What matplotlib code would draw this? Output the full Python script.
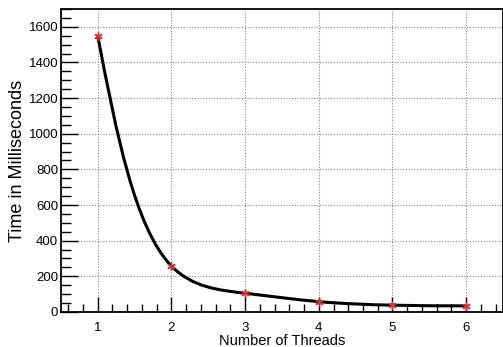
import numpy as np
import matplotlib
matplotlib.use("Agg")
from matplotlib import pyplot as plt
from matplotlib.path import Path
from matplotlib.patches import PathPatch
from matplotlib.ticker import MultipleLocator

plt.rcParams['font.family'] = ['Liberation Sans', 'DejaVu Sans']

threads = [1, 2, 3, 4, 5, 6]
time_ms = [1550, 258, 105, 58, 38, 34]
x_ticks = [1, 2, 3, 4, 5, 6]
y_ticks = [0, 200, 400, 600, 800, 1000, 1200, 1400, 1600]

xlim = (0.5, 6.5)
ylim = (0, 1700)


def natural_derivs(s, v):
    # first derivatives of a natural cubic spline v(s) at both ends of each piece
    n = len(s)
    h = np.diff(s)
    A = np.zeros((n, n))
    b = np.zeros(n)
    A[0, 0] = A[-1, -1] = 1
    for i in range(1, n - 1):
        A[i, i - 1] = h[i - 1]
        A[i, i] = 2 * (h[i - 1] + h[i])
        A[i, i + 1] = h[i]
        b[i] = 6 * ((v[i + 1] - v[i]) / h[i] - (v[i] - v[i - 1]) / h[i - 1])
    M = np.linalg.solve(A, b)
    d0 = (v[1:] - v[:-1]) / h - h * (2 * M[:-1] + M[1:]) / 6
    d1 = (v[1:] - v[:-1]) / h + h * (M[:-1] + 2 * M[1:]) / 6
    return d0, d1, h


def smooth_path(x, y, sx, sy, alpha=0.5):
    # parametric natural spline, centripetal knots on screen, drawn as beziers
    x = np.asarray(x, float)
    y = np.asarray(y, float)
    dt = np.hypot(np.diff(x) * sx, np.diff(y) * sy) ** alpha
    s = np.concatenate([[0], np.cumsum(dt)])
    dx0, dx1, h = natural_derivs(s, x)
    dy0, dy1, _ = natural_derivs(s, y)
    verts = [(x[0], y[0])]
    codes = [Path.MOVETO]
    for i in range(len(x) - 1):
        verts += [(x[i] + dx0[i] * h[i] / 3, y[i] + dy0[i] * h[i] / 3),
                  (x[i + 1] - dx1[i] * h[i] / 3, y[i + 1] - dy1[i] * h[i] / 3),
                  (x[i + 1], y[i + 1])]
        codes += [Path.CURVE4] * 3
    return Path(verts, codes)


fig = plt.figure(figsize=(5.03, 3.47), dpi=100)
ax = fig.add_axes([0.121, 0.101, 0.879, 0.873])

ax.grid(True, color='#888888', linestyle=(0, (1, 1.5)), linewidth=0.8)
ax.set_axisbelow(True)

ax.set_xlim(*xlim)
ax.set_ylim(*ylim)

w_px = 0.879 * 503
h_px = 0.873 * 347
ax.add_patch(PathPatch(smooth_path(threads, time_ms, w_px / (xlim[1] - xlim[0]),
                                   h_px / (ylim[1] - ylim[0])),
                       facecolor='none', edgecolor='black', linewidth=2.2, zorder=3))
ax.plot(threads, time_ms, linestyle='none', marker=(6, 2, 0), color='#e03030',
        markersize=6, markeredgewidth=1.0, zorder=4)

ax.set_xticks(x_ticks)
ax.set_yticks(y_ticks)
ax.xaxis.set_minor_locator(MultipleLocator(0.2))
ax.yaxis.set_minor_locator(MultipleLocator(50))
ax.tick_params(which='both', direction='in', labelsize=9.5, top=False, right=False)
ax.tick_params(axis='x', which='major', length=11, width=1, pad=7)
ax.tick_params(axis='x', which='minor', length=6, width=1)
ax.tick_params(axis='y', which='major', length=12, width=1, pad=2)
ax.tick_params(axis='y', which='minor', length=7, width=1)

for s in ax.spines.values():
    s.set_linewidth(1.3)

ax.set_xlabel('Number of Threads', fontsize=10.5, labelpad=0)
ax.set_ylabel('Time in Milliseconds', fontsize=13, labelpad=2)

fig.savefig('out.png', dpi=100)
